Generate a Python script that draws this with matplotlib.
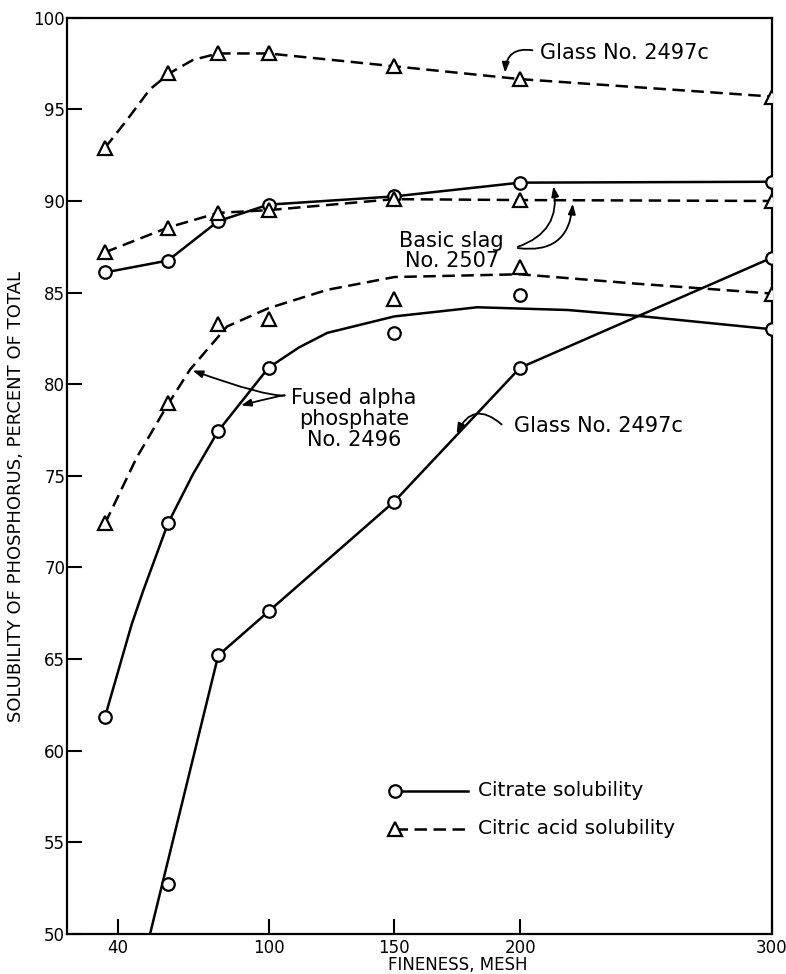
import matplotlib.pyplot as plt

plt.rcParams['font.family'] = ['DejaVu Sans']

# sieve sizes (mesh)
mesh = [35, 60, 80, 100, 150, 200, 300]
glass_mesh = [60, 80, 100, 150, 200, 300]

# measured solubility, percent of total P
glass_citric = [92.9, 97.0, 98.05, 98.05, 97.35, 96.65, 95.7]
glass_citrate = [52.7, 65.2, 67.6, 73.6, 80.9, 86.9]
slag_citrate = [86.1, 86.75, 88.9, 89.8, 90.25, 91.0, 91.05]
slag_citric = [87.2, 88.55, 89.35, 89.5, 90.1, 90.05, 90.0]
alpha_citric = [72.4, 78.95, 83.3, 83.55, 84.65, 86.4, 84.95]
alpha_citrate = [61.85, 72.4, 77.45, 80.9, 82.8, 84.85, 83.0]

# hand drawn curves
glass_citric_fit_x = [35, 43.6, 52.9, 61, 70, 80, 100, 150, 200, 300]
glass_citric_fit_y = [92.9, 94.4, 96.1, 97.0, 97.7, 98.05, 98.05, 97.35, 96.65, 95.7]
alpha_citric_fit_x = [35, 47.6, 60, 68.8, 83.5, 100, 123.3, 150, 200, 245, 300]
alpha_citric_fit_y = [72.4, 76.0, 78.9, 80.8, 83.15, 84.15, 85.15, 85.85, 86.0, 85.5, 84.95]
alpha_citrate_fit_x = [35, 45.6, 50.1, 60, 70, 80, 100, 112, 123.3, 150, 183, 219, 249, 300]
alpha_citrate_fit_y = [61.85, 66.9, 68.7, 72.4, 75.1, 77.45, 80.9, 82.0, 82.8, 83.7, 84.2, 84.05, 83.7, 83.0]
glass_line_x = [52.9, 80, 100, 150, 200, 300]
glass_line_y = [50.0, 65.2, 67.6, 73.6, 80.9, 86.9]

xticks = [40, 100, 150, 200, 300]
yticks = list(range(50, 101, 5))

fig = plt.figure(figsize=(7.86, 9.74), dpi=100)
ax = fig.add_axes([0.0856, 0.0411, 0.8962, 0.9407])

LW = 1.8
DASH = (5, 2.6)
circ = dict(marker='o', ms=9, mfc='white', mec='black', mew=1.6, ls='none', zorder=4)
tri = dict(marker='^', ms=10, mfc='white', mec='black', mew=1.6, ls='none', zorder=4)

# glass 2497c
ax.plot(glass_citric_fit_x, glass_citric_fit_y, color='black', lw=LW, dashes=DASH)
ax.plot(mesh, glass_citric, **tri)
ax.plot(glass_line_x, glass_line_y, color='black', lw=LW)
ax.plot(glass_mesh, glass_citrate, **circ)

# basic slag 2507
ax.plot(mesh, slag_citrate, color='black', lw=LW)
ax.plot(mesh, slag_citric, color='black', lw=LW, dashes=DASH)
ax.plot(mesh, slag_citrate, **circ)
ax.plot(mesh, slag_citric, **tri)

# fused alpha phosphate 2496
ax.plot(alpha_citric_fit_x, alpha_citric_fit_y, color='black', lw=LW, dashes=DASH)
ax.plot(alpha_citrate_fit_x, alpha_citrate_fit_y, color='black', lw=LW)
ax.plot(mesh, alpha_citric, **tri)
ax.plot(mesh, alpha_citrate, **circ)

ax.set_xlim(20, 300)
ax.set_ylim(50, 100)
ax.set_xticks(xticks)
ax.set_yticks(yticks)
ax.tick_params(direction='in', length=11, width=1.5, labelsize=12)
ax.tick_params(axis='x', pad=3.5)
ax.tick_params(axis='y', pad=1.5)
for s in ax.spines.values():
    s.set_linewidth(1.6)

ax.set_xlabel('FINENESS, MESH', fontsize=12)
ax.xaxis.set_label_coords(0.5547, -0.0338)
ax.xaxis.label.set_va('center')
ax.set_ylabel('SOLUBILITY OF PHOSPHORUS, PERCENT OF TOTAL', fontsize=13)
ax.yaxis.set_label_coords(-0.073, 0.477)
ax.yaxis.label.set_va('center')

arrow = dict(arrowstyle='-|>,head_length=0.6,head_width=0.22', color='black', lw=1.3)
fs = 15

ax.text(208, 98.08, 'Glass No. 2497c', fontsize=fs, va='center', ha='left')
ax.annotate('', xy=(194, 96.85), xytext=(206, 98.2),
            arrowprops=dict(arrow, connectionstyle='arc3,rad=0.6'))

ax.text(172.8, 87.27, 'Basic slag\nNo. 2507', fontsize=fs, va='center', ha='center',
        linespacing=1.0)
ax.annotate('', xy=(213, 90.95), xytext=(198, 87.45),
            arrowprops=dict(arrow, connectionstyle='arc3,rad=0.45'))
ax.annotate('', xy=(221, 90.0), xytext=(198, 87.45),
            arrowprops=dict(arrow, connectionstyle='arc3,rad=0.55'))

ax.text(134, 78.1, 'Fused alpha\nphosphate\nNo. 2496', fontsize=fs, va='center', ha='center',
        linespacing=1.05)
ax.annotate('', xy=(68.8, 80.8), xytext=(107.5, 79.4),
            arrowprops=dict(arrow, connectionstyle='angle3,angleA=10,angleB=-20'))
ax.annotate('', xy=(88, 78.8), xytext=(107.5, 79.4),
            arrowprops=dict(arrow, connectionstyle='angle3,angleA=-10,angleB=15'))

ax.text(197.4, 77.72, 'Glass No. 2497c', fontsize=fs, va='center', ha='left')
ax.annotate('', xy=(174.3, 77.16), xytext=(193.5, 77.7),
            arrowprops=dict(arrow, connectionstyle='arc3,rad=0.7'))

# legend drawn in axes fraction
ax.plot([0.4652, 0.5688], [0.1561, 0.1561], transform=ax.transAxes, color='black', lw=LW,
        marker='o', markevery=[0], ms=9, mfc='white', mec='black', mew=1.6)
ax.plot([0.4652, 0.5688], [0.1146, 0.1146], transform=ax.transAxes, color='black', lw=LW,
        dashes=DASH, marker='^', markevery=[0], ms=10, mfc='white', mec='black', mew=1.6)
ax.text(0.583, 0.1561, 'Citrate solubility', transform=ax.transAxes, fontsize=14.5, va='center')
ax.text(0.583, 0.1146, 'Citric acid solubility', transform=ax.transAxes, fontsize=14.5, va='center')

fig.savefig('out.png', dpi=100)
